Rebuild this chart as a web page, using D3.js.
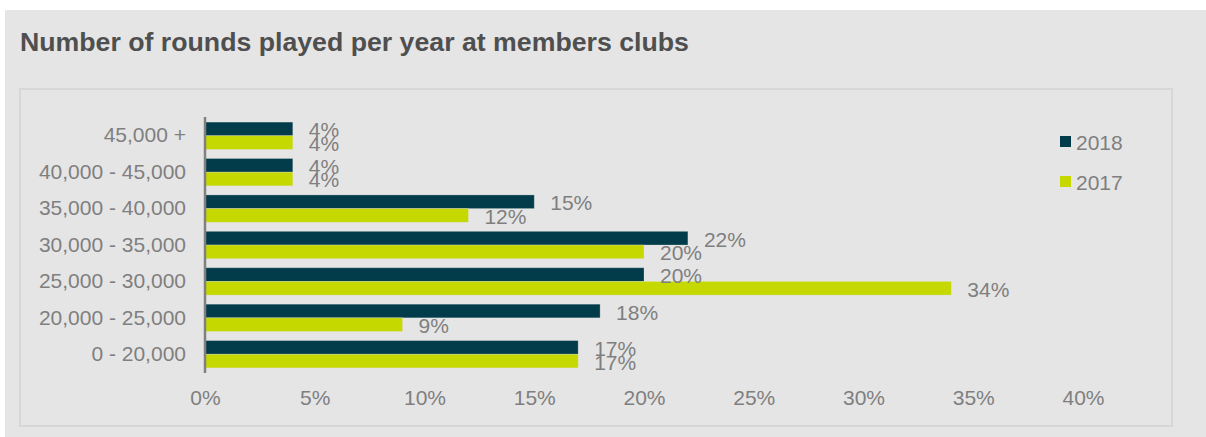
<!DOCTYPE html>
<html>
<head>
<meta charset="utf-8">
<script src="https://cdn.jsdelivr.net/npm/d3@7/dist/d3.min.js"></script>
<style>
  html, body { margin: 0; padding: 0; background: #ffffff; }
  svg { display: block; font-family: "Liberation Sans", Arial, sans-serif; }
</style>
</head>
<body>
<svg id="chart" width="1206" height="437"></svg>
<script>
// Rounds-played bands, top to bottom
const categories = ["45,000 +", "40,000 - 45,000", "35,000 - 40,000", "30,000 - 35,000",
                    "25,000 - 30,000", "20,000 - 25,000", "0 - 20,000"];
const seriesNames = ["2018", "2017"];
const values2018 = [4, 4, 15, 22, 20, 18, 17];
const values2017 = [4, 4, 12, 20, 34, 9, 17];
const xTicks = [0, 5, 10, 15, 20, 25, 30, 35, 40];
const colors = { "2018": "#023c4a", "2017": "#c5d800" };

const svg = d3.select("#chart");

// Outer panel and inner plot frame
svg.append("rect").attr("x", 5).attr("y", 10).attr("width", 1201).attr("height", 427)
  .attr("fill", "#e5e5e5");
svg.append("rect").attr("x", 20).attr("y", 89).attr("width", 1152).attr("height", 337)
  .attr("fill", "#e5e5e5").attr("stroke", "#d7d7d7").attr("stroke-width", 2);

svg.append("text").attr("x", 20).attr("y", 51)
  .attr("font-size", 26.7).attr("font-weight", "bold").attr("fill", "#4f4f4f")
  .text("Number of rounds played per year at members clubs");

const x = d3.scaleLinear().domain([0, 40]).range([205, 1083]);
const y = d3.scaleBand().domain(categories).range([117, 373])
  .paddingInner(0.25).paddingOuter(0.14);
const ySub = d3.scaleBand().domain(seriesNames).range([0, y.bandwidth()]);

const rows = categories.map((c, i) => ({
  cat: c,
  vals: [{ s: "2018", v: values2018[i] }, { s: "2017", v: values2017[i] }]
}));

const g = svg.append("g");
const groups = g.selectAll("g.row").data(rows).join("g")
  .attr("transform", d => `translate(0,${y(d.cat)})`);

groups.selectAll("rect").data(d => d.vals).join("rect")
  .attr("x", x(0))
  .attr("y", d => ySub(d.s))
  .attr("width", d => x(d.v) - x(0))
  .attr("height", ySub.bandwidth())
  .attr("fill", d => colors[d.s])
  .attr("stroke", "#e5e5e5").attr("stroke-opacity", 0.35).attr("stroke-width", 0.8);

// Value labels sit just right of each bar end
groups.selectAll("text").data(d => d.vals).join("text")
  .attr("x", d => x(d.v) + 16)
  .attr("y", d => ySub(d.s) + ySub.bandwidth() / 2 + 1)
  .attr("dominant-baseline", "central")
  .attr("font-size", 21).attr("fill", "#7f7f7f")
  .text(d => d.v + "%");

// Category axis
const yAxis = svg.append("g").attr("transform", `translate(${x(0)},0)`)
  .call(d3.axisLeft(y).tickSize(0).tickPadding(19));
yAxis.select(".domain").attr("stroke", "#808080").attr("stroke-width", 2.5)
  .attr("d", "M0,117V373");
yAxis.selectAll("text").attr("font-size", 21).attr("fill", "#7f7f7f")
  .attr("font-family", "Liberation Sans, Arial, sans-serif");

// Value axis (labels only)
const xAxis = svg.append("g").attr("transform", "translate(0,398)")
  .call(d3.axisBottom(x).tickValues(xTicks).tickSize(0).tickPadding(0).tickFormat(d => d + "%"));
xAxis.select(".domain").remove();
xAxis.selectAll("text").attr("font-size", 21).attr("fill", "#7f7f7f")
  .attr("dy", "0.35em")
  .attr("font-family", "Liberation Sans, Arial, sans-serif");

// Legend
const legend = svg.append("g");
seriesNames.forEach((s, i) => {
  const ly = 141 + i * 40;
  legend.append("rect").attr("x", 1060).attr("y", ly - 5).attr("width", 11).attr("height", 11)
    .attr("fill", colors[s]);
  legend.append("text").attr("x", 1076).attr("y", ly + 1).attr("dominant-baseline", "central")
    .attr("font-size", 21).attr("fill", "#7f7f7f").text(s);
});
</script>
</body>
</html>
